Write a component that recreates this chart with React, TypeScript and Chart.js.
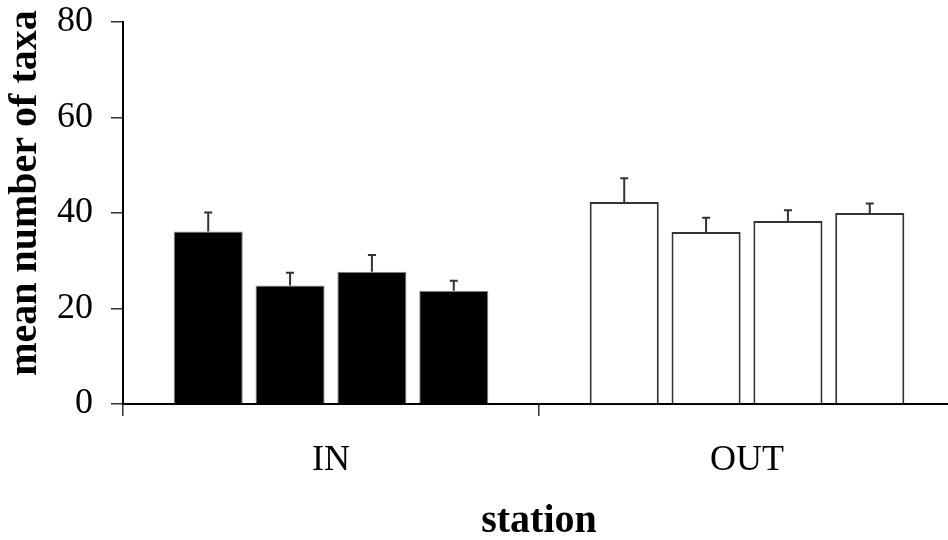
import React, { useEffect, useRef } from "react";
import { Chart, registerables } from "chart.js";

Chart.register(...registerables);

const categories = ["IN", "OUT"];
const seriesNames = ["S1", "S2", "S3", "S4"];
// each series: [IN value, OUT value]
const means = [
  [36.1, 42.3],
  [24.8, 36.0],
  [27.7, 38.3],
  [23.7, 40.0],
];
const errors = [
  [4.0, 5.0],
  [2.7, 3.0],
  [3.5, 2.3],
  [2.1, 2.0],
];
const yTicks = [0, 20, 40, 60, 80];

const errorBarPlugin = {
  id: "errorBars",
  afterDatasetsDraw(chart: any) {
    const ctx = chart.ctx;
    const yScale = chart.scales.y;
    ctx.save();
    ctx.strokeStyle = "#333";
    ctx.lineWidth = 2;
    chart.data.datasets.forEach((ds: any, di: number) => {
      const meta = chart.getDatasetMeta(di);
      meta.data.forEach((bar: any, i: number) => {
        const v = ds.data[i];
        const e = errors[di][i];
        const yTop = yScale.getPixelForValue(v + e);
        ctx.beginPath();
        ctx.moveTo(bar.x, bar.y);
        ctx.lineTo(bar.x, yTop);
        ctx.moveTo(bar.x - 4, yTop);
        ctx.lineTo(bar.x + 4, yTop);
        ctx.stroke();
      });
    });
    ctx.restore();
  },
};

export default function App() {
  const ref = useRef<HTMLCanvasElement>(null);
  useEffect(() => {
    if (!ref.current) return;
    const chart = new Chart(ref.current, {
      type: "bar",
      data: {
        labels: categories,
        datasets: seriesNames.map((name, si) => ({
          label: name,
          data: means[si],
          backgroundColor: ["#000000", "#ffffff"],
          borderColor: ["#8a8a8a", "#333333"],
          borderWidth: [1, 2],
          categoryPercentage: 0.787,
          barPercentage: 0.844,
        })),
      },
      options: {
        animation: false,
        responsive: false,
        maintainAspectRatio: false,
        layout: { padding: { top: 22, right: 15, left: 0, bottom: 0 } },
        plugins: { legend: { display: false }, tooltip: { enabled: false } },
        scales: {
          x: {
            afterFit(scale: any) {
              scale.height = 136;
              scale.paddingLeft = 0;
              scale.paddingRight = 0;
            },
            grid: {
              offset: true,
              drawOnChartArea: false,
              drawTicks: true,
              tickLength: 12,
              color: "#333",
              lineWidth: 1.5,
            },
            border: { display: true, color: "#000", width: 2 },
            ticks: {
              color: "#000",
              padding: 23,
              font: { family: "'Liberation Serif', serif", size: 36 },
            },
            title: {
              display: true,
              text: "station",
              color: "#000",
              font: { family: "'Liberation Serif', serif", size: 40, weight: "bold" },
              padding: { top: 0, bottom: -6 },
            },
          },
          y: {
            min: 0,
            max: 80,
            afterFit(scale: any) {
              scale.width = 123;
              scale.paddingTop = 0;
              scale.paddingBottom = 0;
            },
            afterBuildTicks(scale: any) {
              scale.ticks = yTicks.map((v) => ({ value: v }));
            },
            grid: {
              drawOnChartArea: false,
              drawTicks: true,
              tickLength: 12,
              color: "#333",
              lineWidth: 1.5,
            },
            border: { display: true, color: "#000", width: 2 },
            ticks: {
              color: "#000",
              padding: 18,
              font: { family: "'Liberation Serif', serif", size: 36 },
            },
            title: {
              display: true,
              text: "    mean number of taxa",
              color: "#000",
              font: { family: "'Liberation Serif', serif", size: 40, weight: "bold" },
              padding: { top: 2, bottom: 0 },
            },
          },
        },
      },
      plugins: [errorBarPlugin],
    });
    return () => chart.destroy();
  }, []);
  return (
    <div
      style={{
        position: "fixed",
        left: 0,
        top: 0,
        width: 948,
        height: 540,
        overflow: "hidden",
        background: "#fff",
      }}
    >
      <canvas ref={ref} width={970} height={540} style={{ display: "block" }} />
    </div>
  );
}
